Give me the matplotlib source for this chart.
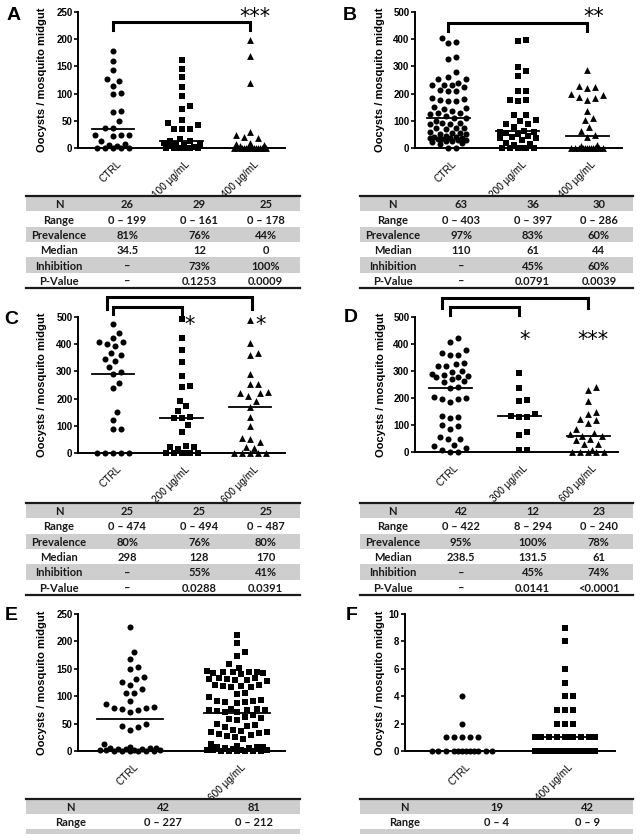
import numpy as np
import matplotlib
matplotlib.use('Agg')
import matplotlib.pyplot as plt

plt.rcParams['font.family'] = ['Liberation Sans', 'DejaVu Sans']

# oocyst counts per midgut
a_ctrl = [179, 160, 143, 126, 124, 114, 101, 99, 68, 67, 49, 37, 37, 24, 23, 23, 22,
          12, 8, 5, 3, 0, 0, 0, 0, 0]
a_100 = [162, 145, 130, 112, 96, 77, 71, 51, 46, 43, 35, 35, 35, 16, 12, 12, 10, 8, 7,
         5, 3, 2, 0, 0, 0, 0, 0, 0, 0]
a_400 = [199, 169, 120, 30, 23, 20, 18, 10, 8, 5, 3] + [0] * 14

b_ctrl = [405, 390, 385, 335, 326, 280, 262, 255, 254, 240, 232, 232, 230, 223, 212,
          211, 210, 185, 180, 175, 173, 172, 150, 147, 145, 135, 130, 128, 125, 118,
          112, 110, 100, 92, 91, 90, 88, 75, 73, 72, 70, 58, 56, 55, 53, 50, 45, 42,
          40, 38, 37, 35, 33, 32, 30, 28, 27, 25, 22, 20, 15, 0, 0]
b_200 = [396, 393, 299, 283, 265, 211, 211, 177, 177, 173, 122, 122, 104, 98, 89, 89,
         77, 62, 60, 57, 55, 50, 45, 40, 37, 35, 30, 20, 15, 12, 0, 0, 0, 0, 0, 0]
b_400 = [287, 228, 223, 222, 199, 195, 187, 183, 176, 137, 110, 102, 76, 63, 48, 40,
         12, 6] + [0] * 12

c_ctrl = [476, 443, 423, 409, 409, 400, 394, 366, 360, 344, 340, 317, 298, 290, 259,
          238, 149, 122, 90, 88, 0, 0, 0, 0, 0]
c_200 = [494, 421, 378, 335, 283, 246, 244, 193, 173, 156, 134, 130, 128, 104, 79, 24,
         22, 22, 15, 0, 0, 0, 0, 0, 0]
c_600 = [488, 406, 366, 362, 289, 254, 254, 223, 221, 219, 210, 191, 170, 134, 100,
         55, 52, 39, 22, 18, 0, 0, 0, 0, 0]

d_ctrl = [423, 407, 376, 367, 358, 358, 330, 325, 320, 318, 300, 298, 290, 285, 280,
          278, 276, 272, 262, 258, 240, 237, 205, 200, 198, 196, 185, 132, 130, 125,
          100, 98, 87, 55, 50, 48, 25, 22, 15, 6, 0, 0]
d_300 = [294, 238, 194, 189, 142, 133, 130, 128, 74, 62, 9, 8]
d_600 = [240, 231, 189, 148, 142, 123, 118, 107, 86, 72, 65, 61, 58, 49, 45, 31, 28,
         8, 0, 0, 0, 0, 0]

e_ctrl = [227, 181, 168, 154, 150, 135, 132, 126, 121, 114, 106, 105, 92, 85, 80, 79,
          79, 77, 74, 71, 49, 46, 43, 38, 13, 8, 6, 5, 5, 4, 3, 3, 2, 2, 1, 1,
          0, 0, 0, 0, 0, 0]
e_600 = [212, 197, 180, 173, 158, 152,
         145, 145, 143, 144, 145, 142, 146, 140,
         133, 132, 130, 131, 133, 130, 128,
         120, 118, 119, 117, 120, 116,
         105, 104, 98,
         93, 91, 90, 92, 88, 89,
         76, 75, 74, 72, 77, 73, 75, 71,
         65, 62, 58, 56, 60,
         50, 48, 46, 44,
         38, 36, 35, 34, 33, 31, 30,
         27, 25, 22,
         12, 10, 8, 8, 7, 6, 5,
         3, 2, 2, 1, 1, 0, 0, 0, 0, 0, 0]

f_ctrl = [4, 2, 1, 1, 1, 1, 1] + [0] * 12
f_400 = [9, 8, 6, 5, 4, 4, 3, 3, 3, 2, 2, 2] + [1] * 10 + [0] * 20

# horizontal bars (medians as drawn)
a_med = [34.5, 12, 0]
b_med = [110, 61, 44]
c_med = [290, 128, 170]
d_med = [238.5, 131.5, 61]
e_med = [59, 70]
f_med = [0, 1]

a_labels = ['CTRL', '100 µg/mL', '400 µg/mL']
b_labels = ['CTRL', '200 µg/mL', '400 µg/mL']
c_labels = ['CTRL', '200 µg/mL', '600 µg/mL']
d_labels = ['CTRL', '300 µg/mL', '600 µg/mL']
e_labels = ['CTRL', '600 µg/mL']
f_labels = ['CTRL', '400 µg/mL']

row_names = ['N', 'Range', 'Prevalence', 'Median', 'Inhibition', 'P-Value']
a_tab = [['26', '29', '25'], ['0 – 199', '0 – 161', '0 – 178'], ['81%', '76%', '44%'],
         ['34.5', '12', '0'], ['–', '73%', '100%'], ['–', '0.1253', '0.0009']]
b_tab = [['63', '36', '30'], ['0 – 403', '0 – 397', '0 – 286'], ['97%', '83%', '60%'],
         ['110', '61', '44'], ['–', '45%', '60%'], ['–', '0.0791', '0.0039']]
c_tab = [['25', '25', '25'], ['0 – 474', '0 – 494', '0 – 487'], ['80%', '76%', '80%'],
         ['298', '128', '170'], ['–', '55%', '41%'], ['–', '0.0288', '0.0391']]
d_tab = [['42', '12', '23'], ['0 – 422', '8 – 294', '0 – 240'], ['95%', '100%', '78%'],
         ['238.5', '131.5', '61'], ['–', '45%', '74%'], ['–', '0.0141', '<0.0001']]
e_tab = [['42', '81'], ['0 – 227', '0 – 212']]
f_tab = [['19', '42'], ['0 – 4', '0 – 9']]

W, H = 640, 840
GRAY = '#cecece'


def box(l, t, r, b):
    return [l / W, 1 - b / H, (r - l) / W, (b - t) / H]


def swarm_x(ax, xc, values, step=8.0, half=18.0):
    # greedy beeswarm in pixel space, lowest values first
    tr = ax.transData
    ppx = tr.transform((1, 0))[0] - tr.transform((0, 0))[0]
    ys = tr.transform(np.column_stack([np.zeros(len(values)), values]))[:, 1]
    q = step / 4
    cands = [0.0]
    k = 1
    while k * q <= half:
        cands += [k * q, -k * q]
        k += 1
    placed = []
    out = np.zeros(len(values))
    for i in np.argsort(values, kind='stable'):
        best, best_d = 0.0, -1.0
        for c in cands:
            d = min((np.hypot(c - px, ys[i] - py) for px, py in placed), default=1e9)
            if d >= step:
                best = c
                break
            if d > best_d:
                best, best_d = c, d
        placed.append((best, ys[i]))
        out[i] = xc + best / ppx
    return out


def dot_panel(rect, groups, meds, labels, ymax, ystep, xlim, ylab_x, half):
    ax = fig.add_axes(rect)
    ax.set_xlim(*xlim)
    ax.set_ylim(0, ymax)
    markers = ['o', 's', '^']
    sizes = [19, 17, 24]
    for i, vals in enumerate(groups):
        xs = swarm_x(ax, i, vals, half=half)
        ax.scatter(xs, vals, marker=markers[i], s=sizes[i], c='k', linewidths=0,
                   clip_on=False, zorder=3)
        ax.plot([i - 0.31, i + 0.31], [meds[i]] * 2, color='k', lw=1.3, zorder=4,
                clip_on=False)
        ax.annotate(labels[i], xy=(i, 0), xytext=(2.5, -8), textcoords='offset points',
                    ha='right', va='top', rotation=45, rotation_mode='anchor',
                    fontsize=7.2)
    for s in ['top', 'right']:
        ax.spines[s].set_visible(False)
    for s in ['left', 'bottom']:
        ax.spines[s].set_linewidth(1.4)
    ax.set_xticks([])
    ax.set_yticks(np.arange(0, ymax + 0.1, ystep))
    ax.tick_params(axis='y', direction='out', length=3, width=1.2, pad=1, labelsize=7)
    for t in ax.get_yticklabels():
        t.set_fontweight('bold')
    ax.set_ylabel('Oocysts / mosquito midgut', fontsize=8, fontweight='bold')
    ax.yaxis.set_label_coords(ylab_x, 0.5)
    ax.patch.set_alpha(0)
    return ax


def bracket(ax, x0, x1, y, y_end):
    ax.plot([x0, x0, x1, x1], [y_end, y, y, y_end], color='k', lw=2.2,
            clip_on=False, solid_joinstyle='miter', zorder=5)


def stars(ax, x, y, txt):
    ax.annotate(txt, xy=(x, y), xytext=(0, -8), textcoords='offset points',
                ha='center', va='baseline', fontsize=15, family='DejaVu Sans')


def table(rect, rows, col_x, part=0.0):
    ax = fig.add_axes(rect)
    n = len(rows)
    ax.set_xlim(0, 1)
    ax.set_ylim(n + part, 0)
    ax.axis('off')
    for i in range(0, n + (1 if part else 0), 2):
        ax.axhspan(i, min(i + 1, n + part), color=GRAY, lw=0)
    ax.axhline(0, color='#1a1a1a', lw=1.6, clip_on=False)
    if not part:
        ax.axhline(n, color='#1a1a1a', lw=1.6, clip_on=False)
    for i, row in enumerate(rows):
        ax.text(col_x[0], i + 0.5, row_names[i], ha='center', va='center_baseline',
                fontsize=8, fontweight='bold', family='Lato', color='#1a1a1a')
        for x, v in zip(col_x[1:], row):
            ax.text(x, i + 0.5, v, ha='center', va='center_baseline', fontsize=8,
                    fontweight='bold', family='Lato', color='#1a1a1a')


fig = plt.figure(figsize=(6.4, 8.4), dpi=100)

axA = dot_panel(box(78, 12, 285, 148), [a_ctrl, a_100, a_400], a_med, a_labels,
                250, 50, (-0.51, 2.51), -0.15, 18)
axB = dot_panel(box(415, 12, 622, 148), [b_ctrl, b_200, b_400], b_med, b_labels,
                500, 100, (-0.48, 2.5), -0.145, 18)
axC = dot_panel(box(78, 317, 285, 453), [c_ctrl, c_200, c_600], c_med, c_labels,
                500, 100, (-0.51, 2.51), -0.15, 18)
axD = dot_panel(box(415, 317, 618, 452), [d_ctrl, d_300, d_600], d_med, d_labels,
                500, 100, (-0.51, 2.43), -0.145, 18)
axE = dot_panel(box(78, 614, 285, 751), [e_ctrl, e_600], e_med, e_labels,
                250, 50, (-0.49, 1.45), -0.15, 30)
axF = dot_panel(box(405, 614, 615, 751), [f_ctrl, f_400], f_med, f_labels,
                10, 2, (-0.55, 1.49), -0.095, 30)

bracket(axA, 0, 2, 232, 216)
stars(axA, 2.07, 250, '***')
bracket(axB, 0, 2, 460, 431)
stars(axB, 2.09, 500, '**')
bracket(axC, -0.09, 2.03, 573, 530)
bracket(axC, 0, 1, 537, 511)
stars(axC, 1.12, 489, '*')
stars(axC, 2.15, 489, '*')
bracket(axD, -0.12, 2.0, 570, 533)
bracket(axD, 0, 0.99, 537, 507)
stars(axD, 1.07, 433, '*')
stars(axD, 2.07, 433, '***')

cols3 = [0.12, 0.37, 0.633, 0.875]
cols2 = [0.163, 0.5, 0.833]
table(box(26, 196, 300, 288), a_tab, cols3)
table(box(360, 196, 633, 288), b_tab, cols3)
table(box(26, 503, 300, 595), c_tab, cols3)
table(box(360, 503, 633, 595), d_tab, cols3)
table(box(26, 799, 300, 834), e_tab, cols2, part=1 / 3)
table(box(360, 799, 633, 834), f_tab, cols2, part=1 / 3)

for letter, x, y in [('A', 14, 15), ('B', 350, 16), ('C', 11, 319),
                     ('D', 351, 318), ('E', 11, 615), ('F', 352, 615)]:
    fig.text(x / W, 1 - y / H, letter, ha='center', va='center', fontsize=14,
             fontweight='bold')

fig.savefig('out.png', dpi=100, facecolor='white')
